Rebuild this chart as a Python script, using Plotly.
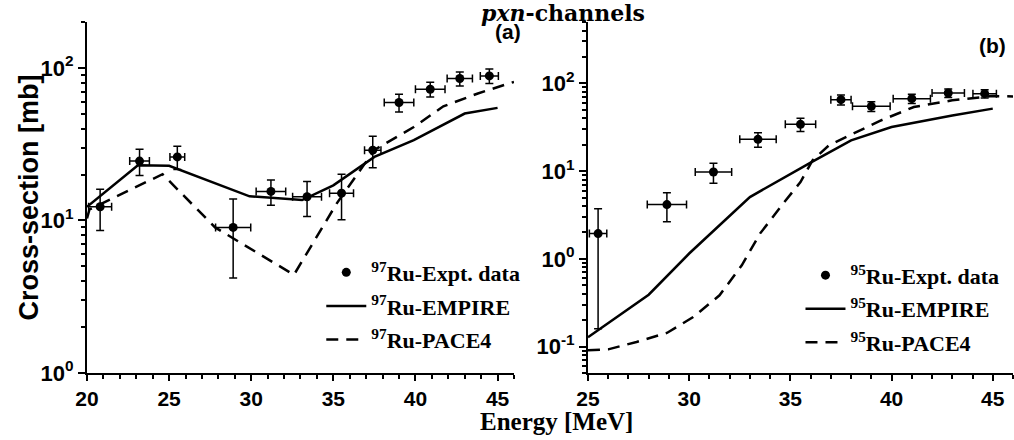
import plotly.graph_objects as go
import numpy as np

# ---------------- data: panel (a) 97Ru ----------------
E97_exp = [20.8, 23.2, 25.5, 28.9, 31.2, 33.4, 35.5, 37.4, 39.0, 40.9, 42.7, 44.5]
CS97_exp = [12.3, 24.5, 26.1, 9.0, 15.5, 14.3, 15.1, 28.9, 59.3, 72.5, 85.2, 88.6]
dCS97_exp = [3.7, 4.8, 4.5, 4.8, 2.9, 3.7, 5.0, 6.7, 7.9, 8.0, 9.0, 9.6]
dE97_exp = [0.7, 0.6, 0.45, 1.07, 0.9, 0.88, 0.73, 0.5, 0.9, 0.9, 0.77, 0.55]

E97_empire = [20.0, 23.1, 25.0, 29.9, 33.1, 35.0, 37.5, 39.9, 43.0, 45.0]
CS97_empire = [12.3, 23.0, 22.8, 14.4, 13.6, 17.0, 26.1, 33.6, 50.2, 54.7]

E97_pace = [20.0, 20.15, 24.6, 27.8, 32.6, 35.2, 37.5, 39.9, 41.7, 43.8, 46.0]
CS97_pace = [10.3, 11.8, 20.1, 9.0, 4.4, 12.9, 29.0, 41.0, 56.0, 68.0, 81.0]

# ---------------- data: panel (b) 95Ru ----------------
E95_exp = [25.5, 28.9, 31.2, 33.4, 35.5, 37.5, 39.0, 41.0, 42.8, 44.6]
CS95_exp = [1.94, 4.15, 9.75, 23.0, 34.1, 65.2, 54.7, 66.9, 77.5, 76.3]
dCS95_exp = [1.78, 1.5, 2.5, 4.3, 5.8, 8.4, 7.0, 8.0, 8.5, 8.4]
dE95_exp = [0.43, 0.97, 0.9, 0.9, 0.75, 0.5, 0.93, 0.92, 0.8, 0.58]

E95_empire = [25.0, 28.0, 30.0, 33.0, 36.0, 38.0, 40.0, 43.0, 45.0]
CS95_empire = [0.128, 0.39, 1.15, 5.06, 12.5, 22.4, 31.8, 43.0, 51.5]

E95_pace = [25.0, 26.0, 27.4, 28.9, 30.2, 31.5, 32.6, 33.5, 34.2, 34.7, 35.5,
            36.1, 36.9, 38.1, 39.4, 41.1, 43.0, 45.0, 46.0]
CS95_pace = [0.091, 0.093, 0.113, 0.143, 0.217, 0.384, 0.843, 1.94, 3.13, 4.44, 7.5,
             13.3, 19.6, 26.7, 37.2, 53.7, 64.0, 71.7, 71.0]

# ---------------- tick labels ----------------
ytick_a_vals = [1, 10, 100]
ytick_a_text = ["10<sup>0</sup>", "10<sup>1</sup>", "10<sup>2</sup>"]
ytick_b_vals = [0.1, 1, 10, 100]
ytick_b_text = ["10<sup>-1</sup>", "10<sup>0</sup>", "10<sup>1</sup>", "10<sup>2</sup>"]

LEG_A = ["<sup>97</sup>Ru-Expt. data", "<sup>97</sup>Ru-EMPIRE", "<sup>97</sup>Ru-PACE4"]
LEG_B = ["<sup>95</sup>Ru-Expt. data", "<sup>95</sup>Ru-EMPIRE", "<sup>95</sup>Ru-PACE4"]


def minor_log(lo_exp, hi_exp):
    out = []
    for k in range(lo_exp, hi_exp + 1):
        for m in range(2, 10):
            out.append(m * 10.0 ** k)
    return out


BLACK = "black"
fig = go.Figure()


def add_panel(xa, ya, leg, E_exp, CS_exp, dCS, dE, E_emp, CS_emp, E_pace, CS_pace, names):
    fig.add_trace(go.Scatter(
        x=E_exp, y=CS_exp, mode="markers", name=names[0], legend=leg,
        xaxis=xa, yaxis=ya, legendgroup=leg + "a",
        marker=dict(color=BLACK, size=9),
        error_y=dict(type="data", array=dCS, color=BLACK, thickness=1.5, width=4),
        error_x=dict(type="data", array=dE, color=BLACK, thickness=1.5, width=4),
    ))
    fig.add_trace(go.Scatter(
        x=E_emp, y=CS_emp, mode="lines", name=names[1], legend=leg,
        xaxis=xa, yaxis=ya, legendgroup=leg + "b",
        line=dict(color=BLACK, width=2.5),
    ))
    fig.add_trace(go.Scatter(
        x=E_pace, y=CS_pace, mode="lines", name=names[2], legend=leg,
        xaxis=xa, yaxis=ya, legendgroup=leg + "c",
        line=dict(color=BLACK, width=2.5, dash="12px,8px"),
    ))


add_panel("x", "y", "legend", E97_exp, CS97_exp, dCS97_exp, dE97_exp,
          E97_empire, CS97_empire, E97_pace, CS97_pace, LEG_A)
add_panel("x2", "y2", "legend2", E95_exp, CS95_exp, dCS95_exp, dE95_exp,
          E95_empire, CS95_empire, E95_pace, CS95_pace, LEG_B)

xtickfont = dict(family="Liberation Sans, Arial", size=21, color=BLACK, weight="bold")
ytickfont = dict(family="Liberation Sans, Arial", size=22, color=BLACK, weight="bold")

common_x = dict(showline=True, linewidth=2, linecolor=BLACK, ticks="outside",
                ticklen=6, tickwidth=2, tickcolor=BLACK, showgrid=False, zeroline=False,
                dtick=5, tickfont=xtickfont,
                minor=dict(dtick=1, ticks="outside", ticklen=4, tickwidth=1.5,
                           tickcolor=BLACK, showgrid=False))
common_y = dict(type="log", showline=True, linewidth=2, linecolor=BLACK, ticks="outside",
                ticklen=7, tickwidth=2, tickcolor=BLACK, showgrid=False, zeroline=False,
                tickfont=ytickfont)

legend_font = dict(family="Liberation Serif, Times New Roman", size=22, color=BLACK,
                   weight="bold")

fig.update_layout(
    width=1014, height=440,
    margin=dict(l=87, r=1, t=22, b=67),
    paper_bgcolor="white", plot_bgcolor="white",
    xaxis=dict(domain=[0, 0.4611], range=[20, 46], tick0=20, anchor="y", **common_x),
    xaxis2=dict(domain=[0.541, 1.0], range=[25, 46], tick0=25, anchor="y2", **common_x),
    yaxis=dict(domain=[0, 1], range=[0, np.log10(200)], anchor="x",
               tickvals=ytick_a_vals, ticktext=ytick_a_text,
               minor=dict(tickvals=minor_log(0, 2), ticks="outside", ticklen=4,
                          tickwidth=1.5, tickcolor=BLACK, showgrid=False),
               **common_y),
    yaxis2=dict(domain=[0, 1], range=[np.log10(0.05), np.log10(500)], anchor="x2",
                tickvals=ytick_b_vals, ticktext=ytick_b_text,
                minor=dict(tickvals=minor_log(-2, 2), ticks="outside", ticklen=4,
                           tickwidth=1.5, tickcolor=BLACK, showgrid=False),
                **common_y),
    legend=dict(x=0.253, y=0.346, xanchor="left", yanchor="top", bgcolor="rgba(0,0,0,0)",
                font=legend_font, tracegroupgap=2, itemwidth=40),
    legend2=dict(x=0.7705, y=0.338, xanchor="left", yanchor="top", bgcolor="rgba(0,0,0,0)",
                 font=legend_font, tracegroupgap=2, itemwidth=40),
    showlegend=True,
)

ann_font_sans = dict(family="Liberation Sans, Arial", color=BLACK, weight="bold")
fig.add_annotation(text="Cross-section [mb]", xref="paper", yref="paper",
                   x=-0.0637, y=0.5, xanchor="center", yanchor="middle",
                   textangle=-90, showarrow=False,
                   font=dict(size=27, **ann_font_sans))
fig.add_annotation(text="Energy [MeV]", xref="paper", yref="paper",
                   x=0.5065, y=-0.139, xanchor="center", yanchor="middle", showarrow=False,
                   font=dict(family="Liberation Serif, Times New Roman", size=25,
                             color=BLACK, weight="bold"))
fig.add_annotation(text="<i>pxn</i>-channels", xref="paper", yref="paper",
                   x=0.514, y=1.027, xanchor="center", yanchor="middle", showarrow=False,
                   font=dict(family="DejaVu Serif", size=22, color=BLACK, weight="bold"))
fig.add_annotation(text="(a)", xref="paper", yref="paper", x=0.4546, y=0.972,
                   xanchor="center", yanchor="middle",
                   showarrow=False, font=dict(size=21, **ann_font_sans))
fig.add_annotation(text="(b)", xref="paper", yref="paper", x=0.978, y=0.934,
                   xanchor="center", yanchor="middle",
                   showarrow=False, font=dict(size=21, **ann_font_sans))

fig.write_html("out.html")
